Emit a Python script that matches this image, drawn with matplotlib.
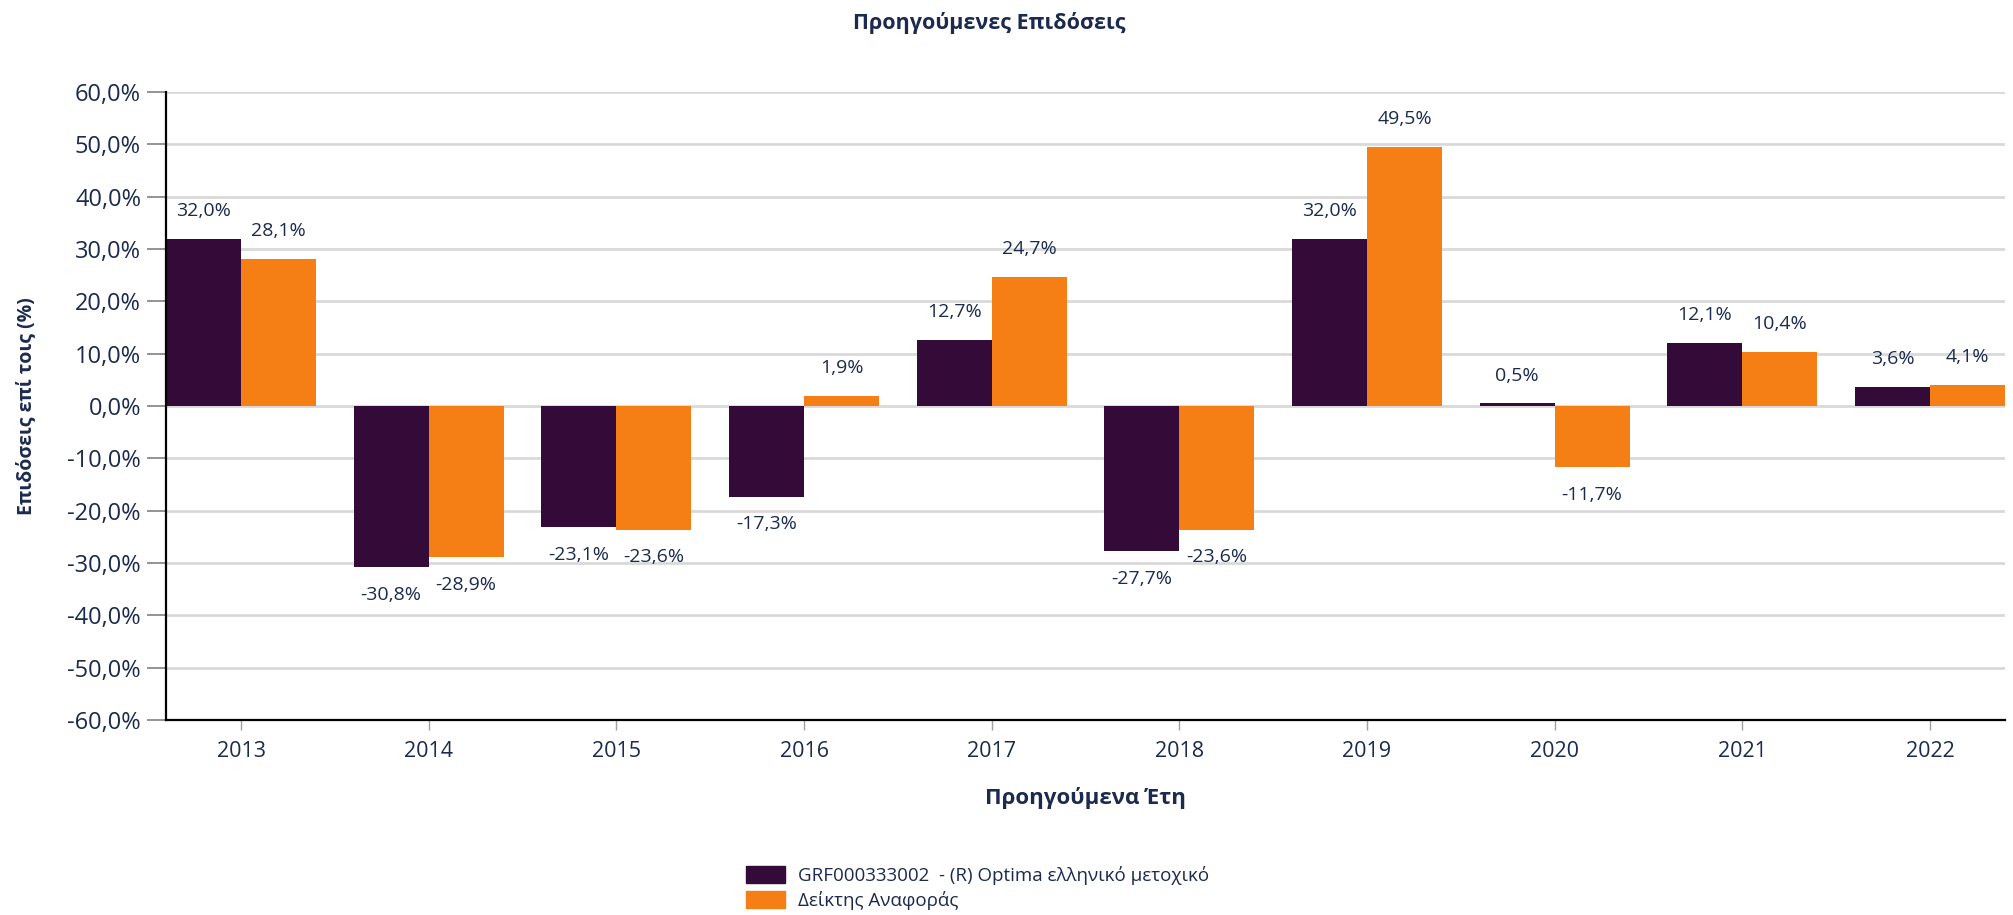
import matplotlib
matplotlib.use("Agg")
import matplotlib.pyplot as plt
import matplotlib.patches as mpatches
import numpy as np

plt.rcParams['font.family'] = ['Open Sans', 'DejaVu Sans']

years = ["2013", "2014", "2015", "2016", "2017", "2018", "2019", "2020", "2021", "2022"]
fund = [32.0, -30.8, -23.1, -17.3, 12.7, -27.7, 32.0, 0.5, 12.1, 3.6]
index_ret = [28.1, -28.9, -23.6, 1.9, 24.7, -23.6, 49.5, -11.7, 10.4, 4.1]
series_names = ["GRF000333002  - (R) Optima ελληνικό μετοχικό", "Δείκτης Αναφοράς"]
yticks = [-60, -50, -40, -30, -20, -10, 0, 10, 20, 30, 40, 50, 60]

purple = "#330a38"
orange = "#f57f14"
navy = "#1b2a4e"

def pct(v):
    return f"{v:.1f}%".replace(".", ",")

fig = plt.figure(figsize=(20.13, 9.15), dpi=100)
ax = fig.add_axes([166/2013, 1-720/915, (2005-166)/2013, (720-92)/915])

x = np.arange(len(years))
w = 0.4
b1 = ax.bar(x - w/2, fund, w, color=purple, zorder=3)
b2 = ax.bar(x + w/2, index_ret, w, color=orange, zorder=3)

for bars, vals in ((b1, fund), (b2, index_ret)):
    for rect, v in zip(bars, vals):
        off = 20 if v >= 0 else -20
        ax.annotate(pct(v), (rect.get_x() + rect.get_width()/2, v),
                    xytext=(0, off), textcoords="offset points",
                    ha="center", va="center", fontsize=14, color=navy)

ax.set_xlim(-0.4, len(years) - 0.6)
ax.set_ylim(-60, 60)
ax.set_yticks(yticks)
ax.set_yticklabels([pct(t) for t in yticks], fontsize=17, color=navy)
ax.set_xticks(x)
ax.set_xticklabels(years, fontsize=15.5, color=navy)
ax.tick_params(axis="y", length=14, width=1.2, color="#808080", pad=4)
ax.tick_params(axis="x", length=7, width=1, color="#a0a0a0", pad=8)

ax.grid(axis="y", color="#d9d9d9", linewidth=2, zorder=0)
ax.set_axisbelow(True)
for s in ("top", "right"):
    ax.spines[s].set_visible(False)
for s in ("left", "bottom"):
    ax.spines[s].set_color("black")
    ax.spines[s].set_linewidth(1.6)
    ax.spines[s].set_zorder(4)

fig.text(989/2013, 1-23/915, "Προηγούμενες Επιδόσεις", ha="center", va="center",
         fontsize=15.5, fontweight="bold", color=navy)
fig.text(1085/2013, 1-798/915, "Προηγούμενα Έτη", ha="center", va="center",
         fontsize=16, fontweight="bold", color=navy)
fig.text(26/2013, 1-406/915, "Επιδόσεις επί τοις (%)", ha="center", va="center",
         rotation=90, fontsize=14, fontweight="bold", color=navy)

handles = [mpatches.Patch(color=purple), mpatches.Patch(color=orange)]
leg = fig.legend(handles, series_names, loc="upper left",
                 bbox_to_anchor=(746/2013, 1-866/915), frameon=False,
                 fontsize=13.5, handlelength=2.1, handleheight=1.0,
                 handletextpad=0.7, labelspacing=0.3, borderpad=0, borderaxespad=0)
for t in leg.get_texts():
    t.set_color(navy)

fig.savefig("out.png", dpi=100)
